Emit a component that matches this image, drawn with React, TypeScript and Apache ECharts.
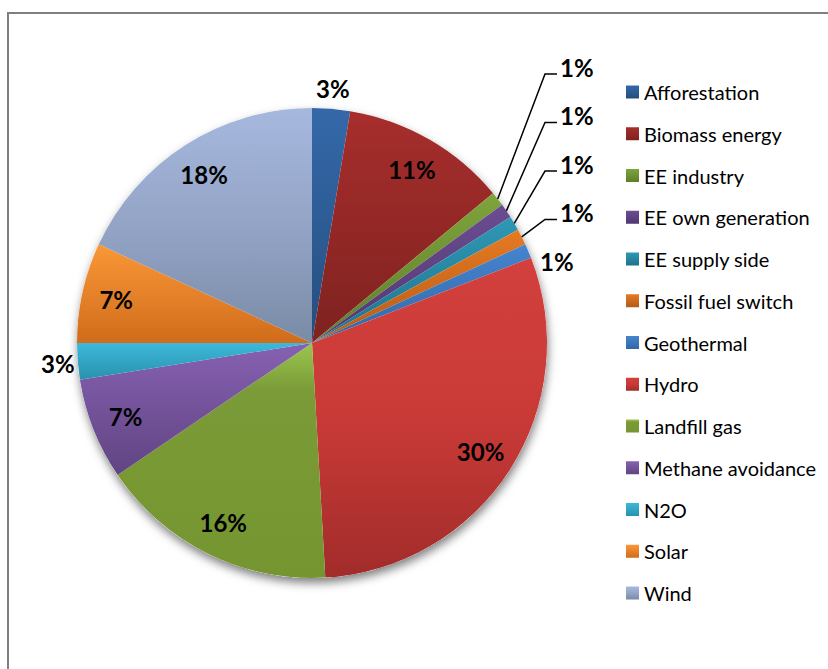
import React, { useEffect, useRef } from "react";
import * as echarts from "echarts";

const CATEGORIES = [
  "Afforestation",
  "Biomass energy",
  "EE industry",
  "EE own generation",
  "EE supply side",
  "Fossil fuel switch",
  "Geothermal",
  "Hydro",
  "Landfill gas",
  "Methane avoidance",
  "N2O",
  "Solar",
  "Wind",
];
const SHARES = [2.6, 11.4, 1.0, 1.0, 1.0, 1.1, 1.0, 30.0, 16.4, 7.0, 2.5, 6.9, 18.1];

const COLOR_TOP = [
  "#3468A8", "#A72E2C", "#7EA43C", "#6B4C92", "#2E98B5", "#E67A22", "#4584D0",
  "#D3403D", "#9CC650", "#8661B2", "#3DB8DA", "#FA9736", "#A6B8DE",
];
const COLOR_MID = [
  "#2D5C95", "#932826", "#6E9133", "#5E4281", "#2785A0", "#CD6A1C", "#3C76BB",
  "#C93A37", "#7A9B37", "#74529A", "#33A5C4", "#E5822A", "#93A4C6",
];
const COLOR_BOTTOM = [
  "#254C7C", "#7E2220", "#5E7D2A", "#503870", "#1F7189", "#B45B16", "#3367A6",
  "#A12C2A", "#74952F", "#604582", "#2891AD", "#D06C1A", "#7A8BA6",
];
const MID_STOP = [0.5, 0.5, 0.5, 0.5, 0.5, 0.5, 0.5, 0.5, 0.2, 0.5, 0.5, 0.5, 0.5];

const INSIDE_LABELS = ["Biomass energy", "Hydro", "Landfill gas", "Methane avoidance", "Solar", "Wind"];
const OUTSIDE_LABELS = ["Afforestation", "N2O"];
const LEADER_LABELS = ["EE industry", "EE own generation", "EE supply side", "Fossil fuel switch", "Geothermal"];

const CX = 303;
const CY = 329;
const R = 235;

const pct = (p: any) => Math.round(p.percent) + "%";
const labelFont = { fontFamily: "Lato", fontWeight: "bold" as const, fontSize: 24, color: "#000" };
const clear = "rgba(0,0,0,0)";

export default function App() {
  const ref = useRef<HTMLDivElement>(null);
  useEffect(() => {
    if (!ref.current) return;
    const chart = echarts.init(ref.current, undefined, { renderer: "svg" });
    const grad = (i: number) =>
      new echarts.graphic.LinearGradient(0, 0, 0, 1, [
        { offset: 0, color: COLOR_TOP[i] },
        { offset: MID_STOP[i], color: COLOR_MID[i] },
        { offset: 1, color: COLOR_BOTTOM[i] },
      ]);
    const base = (extra: (n: string, i: number) => any) =>
      CATEGORIES.map((n, i) => ({ name: n, value: SHARES[i], ...extra(n, i) }));

    const option: any = {
      animation: false,
      backgroundColor: "#fff",
      legend: {
        orient: "vertical",
        left: 612,
        top: 62,
        itemWidth: 13,
        itemHeight: 13,
        itemGap: 19.75,
        icon: "rect",
        selectedMode: false,
        data: CATEGORIES,
        textStyle: { fontFamily: "Lato", fontSize: 20, color: "#000", lineHeight: 22 },
      },
      series: [
        {
          type: "pie",
          name: "shadow",
          center: [CX, CY],
          radius: R,
          silent: true,
          z: 1,
          label: { show: false },
          labelLine: { show: false },
          data: [
            {
              value: 1,
              name: "",
              itemStyle: {
                color: "#fff",
                shadowBlur: 10,
                shadowOffsetY: 5,
                shadowOffsetX: 1,
                shadowColor: "rgba(0,0,0,0.5)",
              },
            },
          ],
        },
        {
          type: "pie",
          name: "share",
          center: [CX, CY],
          radius: R,
          silent: true,
          z: 2,
          label: { show: false },
          labelLine: { show: false },
          itemStyle: { borderWidth: 0 },
          data: base((n, i) => ({ itemStyle: { color: grad(i) } })),
        },
        {
          type: "pie",
          name: "inside",
          center: [CX, CY],
          radius: [160, R],
          silent: true,
          z: 3,
          avoidLabelOverlap: false,
          itemStyle: { color: clear },
          label: { show: true, position: "inside", formatter: pct, ...labelFont },
          labelLine: { show: false },
          data: base((n) => ({ label: { show: INSIDE_LABELS.includes(n) } })),
        },
        {
          type: "pie",
          name: "outside",
          center: [CX, CY],
          radius: R,
          silent: true,
          z: 3,
          avoidLabelOverlap: false,
          itemStyle: { color: clear },
          label: { show: true, position: "outside", formatter: pct, ...labelFont },
          labelLine: { show: true, length: 20, length2: 0, lineStyle: { opacity: 0 } },
          data: base((n) => ({ label: { show: OUTSIDE_LABELS.includes(n) } })),
          labelLayout: (p: any) => {
            const pts = p.labelLinePoints;
            if (!pts) return {};
            return { x: pts[1][0], y: pts[1][1], align: "center", verticalAlign: "middle" };
          },
        },
        {
          type: "pie",
          name: "leaders",
          center: [CX, CY],
          radius: R,
          silent: true,
          z: 3,
          avoidLabelOverlap: false,
          itemStyle: { color: clear },
          label: { show: true, position: "outside", formatter: pct, ...labelFont },
          labelLine: { show: true, length: 15, length2: 10, lineStyle: { color: "#000", width: 1.5 } },
          data: base((n) => ({
            label: { show: LEADER_LABELS.includes(n) },
            labelLine: n === "Geothermal" ? { lineStyle: { opacity: 0 } } : undefined,
          })),
          labelLayout: (p: any) => {
            const k = LEADER_LABELS.indexOf(CATEGORIES[p.dataIndex]);
            if (k < 0) return {};
            const ty = CY - R - 41 + 48.5 * k;
            const last = k === LEADER_LABELS.length - 1;
            const tx = last ? CX + 228 : CX + 248;
            const pts = p.labelLinePoints;
            const res: any = { x: tx, y: ty, align: "left", verticalAlign: "middle" };
            if (pts && !last) {
              res.labelLinePoints = [pts[0], [CX + 233, ty + 7], [CX + 245, ty + 7]];
            }
            return res;
          },
        },
      ],
    };
    chart.setOption(option);
    return () => chart.dispose();
  }, []);

  return (
    <div
      style={{
        position: "absolute",
        left: 7,
        top: 12,
        width: 821,
        height: 657,
        boxSizing: "border-box",
        borderTop: "2px solid #7f7f7f",
        borderLeft: "2px solid #7f7f7f",
        background: "#fff",
      }}
    >
      <div ref={ref} style={{ width: 819, height: 655 }} />
    </div>
  );
}
